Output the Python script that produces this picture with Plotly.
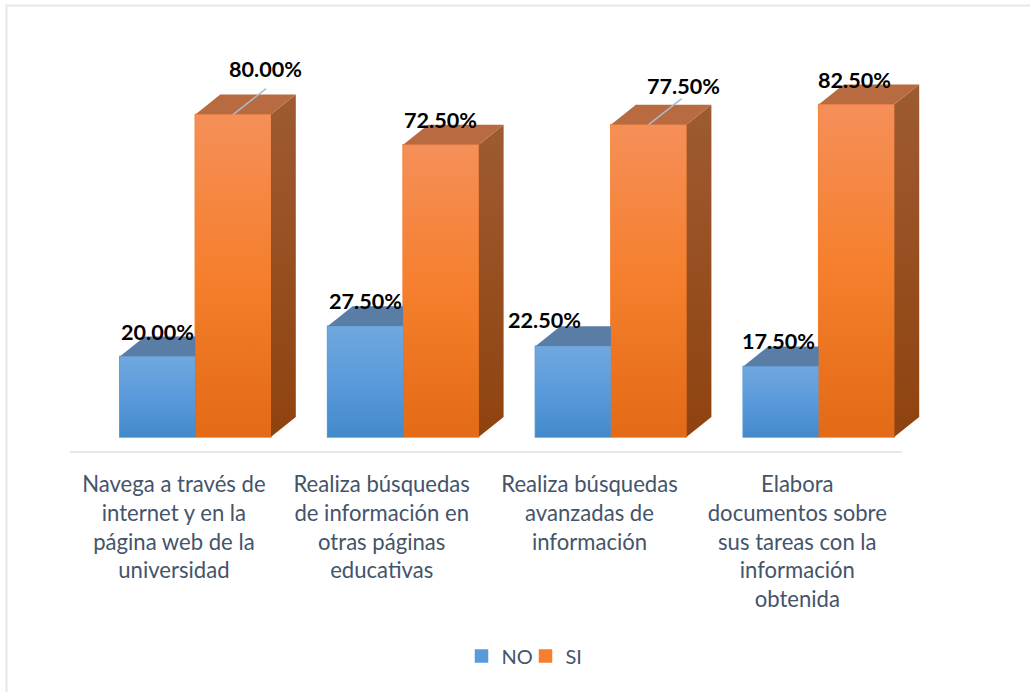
import plotly.graph_objects as go

categories = [
    "Navega a través de<br>internet y en la<br>página web de la<br>universidad",
    "Realiza búsquedas<br>de información en<br>otras páginas<br>educativas",
    "Realiza búsquedas<br>avanzadas de<br>información",
    "Elabora<br>documentos sobre<br>sus tareas con la<br>información<br>obtenida",
]
no_values = [20.0, 27.5, 22.5, 17.5]
si_values = [80.0, 72.5, 77.5, 82.5]

# pixel layout of the plot area, R is past the axis end so the last 3d side isn't clipped
W, H = 1030, 692
L, R, T, B = 70, 931, 40, 452
AXIS_END = 902
PX_X = 207.8          # px per category
PX_Y = 4.03           # px per percent
BASE_PX = 437
BAR_W = 75.5 / PX_X
DX = 25 / PX_X        # 3d depth
DY = 20 / PX_Y
SHIFT = 0.103         # bars sit a bit right of the tick

x_max = (R - L) / PX_X - 0.5
y_min = -(B - BASE_PX) / PX_Y
y_max = y_min + (B - T) / PX_Y

# colorscales run bottom to top
blue_front = [[0, "#438ACB"], [0.5, "#5A9ADB"], [1, "#70A8DE"]]
blue_top = "#5A7DA6"
blue_side = [[0, "#2F5F8F"], [1, "#4A7199"]]
orange_front = [[0, "#E36A17"], [0.5, "#F57F2C"], [1, "#F58F59"]]
orange_top = "#B86B41"
orange_side = [[0, "#8F430F"], [1, "#9E5B31"]]


def face(xs, ys, color=None, scale=None):
    kw = dict(x=xs, y=ys, mode="lines", fill="toself", line=dict(width=0),
              showlegend=False, hoverinfo="skip")
    if scale:
        kw["fillgradient"] = dict(type="vertical", colorscale=scale)
    else:
        kw["fillcolor"] = color
    return go.Scatter(**kw)


def add_box(fig, x0, v, front, top, side):
    x1 = x0 + BAR_W
    # side + top first, front goes over them
    fig.add_trace(face([x1, x1 + DX, x1 + DX, x1, x1], [0, DY, v + DY, v, 0], scale=side))
    fig.add_trace(face([x0, x0 + DX, x1 + DX, x1, x0], [v, v + DY, v + DY, v, v], color=top))
    fig.add_trace(face([x0, x1, x1, x0, x0], [0, 0, v, v, 0], scale=front))


fig = go.Figure()

xs = list(range(len(categories)))
fig.add_trace(go.Bar(x=[i + SHIFT - BAR_W / 2 for i in xs], y=no_values, name="NO", width=BAR_W,
                     marker=dict(color="#5A9ADB", line=dict(color="#5A9ADB", width=1.5))))
fig.add_trace(go.Bar(x=[i + SHIFT + BAR_W / 2 for i in xs], y=si_values, name="SI", width=BAR_W,
                     marker=dict(color="#F57F2C", line=dict(color="#F57F2C", width=1.5))))

for i in xs:
    add_box(fig, i + SHIFT - BAR_W, no_values[i], blue_front, blue_top, blue_side)
    add_box(fig, i + SHIFT, si_values[i], orange_front, orange_top, orange_side)

# leader lines for the labels that were dragged away from their bars
for i in [0, 2]:
    cx = i + SHIFT + BAR_W / 2
    fig.add_trace(go.Scatter(x=[cx, cx + 33 / PX_X], y=[si_values[i], si_values[i] + 26 / PX_Y],
                             mode="lines", line=dict(color="#ADB9CA", width=1.5),
                             showlegend=False, hoverinfo="skip"))

# data labels, offsets in px from the top centre of each front face
no_shift = [(-0.5, 24), (0, 25), (-29, 26), (-2, 25)]
si_shift = [(32, 46), (0, 25), (35, 39), (-2, 25)]
for i in xs:
    for vals, off, sh in [(no_values, -BAR_W / 2, no_shift), (si_values, BAR_W / 2, si_shift)]:
        fig.add_annotation(x=i + SHIFT + off, y=vals[i], text="<b>%.2f%%</b>" % vals[i],
                           showarrow=False, xshift=sh[i][0], yshift=sh[i][1],
                           font=dict(family="Lato", size=21.6, color="black"))

px_x = lambda p: (p - L) / (R - L)
px_y = lambda p: (B - p) / (B - T)

fig.update_layout(
    width=W, height=H,
    margin=dict(l=L, r=W - R, t=T, b=H - B, pad=0),
    paper_bgcolor="white", plot_bgcolor="white",
    font=dict(family="Lato", size=22.1, color="#44546A"),
    barmode="overlay",
    xaxis=dict(range=[-0.5, x_max], tickmode="array", tickvals=xs, ticktext=categories,
               tickangle=0, showgrid=False, zeroline=False, showline=False,
               ticks="", ticklen=0, ticklabelstandoff=17),
    yaxis=dict(range=[y_min, y_max], visible=False, showgrid=False, zeroline=False),
    legend=dict(orientation="h", x=px_x(525.5), xanchor="center",
                y=-(656 - B) / (B - T), yanchor="middle", entrywidth=19,
                font=dict(size=20, color="#44546A")),
    hovermode=False,
)

# axis line stops short of the plot's right edge
fig.add_shape(type="line", xref="paper", yref="paper", x0=0, x1=px_x(AXIS_END), y0=0, y1=0,
              line=dict(color="#E3E7EE", width=2), layer="below")

# only the top and left edges of the pasted chart's frame are in the picture
fig.add_shape(type="path", xref="paper", yref="paper", layer="below",
              path=f"M {px_x(6.5)} {px_y(692)} L {px_x(6.5)} {px_y(5.5)} L {px_x(1030)} {px_y(5.5)}",
              line=dict(color="#E3E7EE", width=2))

fig.write_html("out.html", config={"displayModeBar": False},
               post_script="document.body.style.margin='0';")
